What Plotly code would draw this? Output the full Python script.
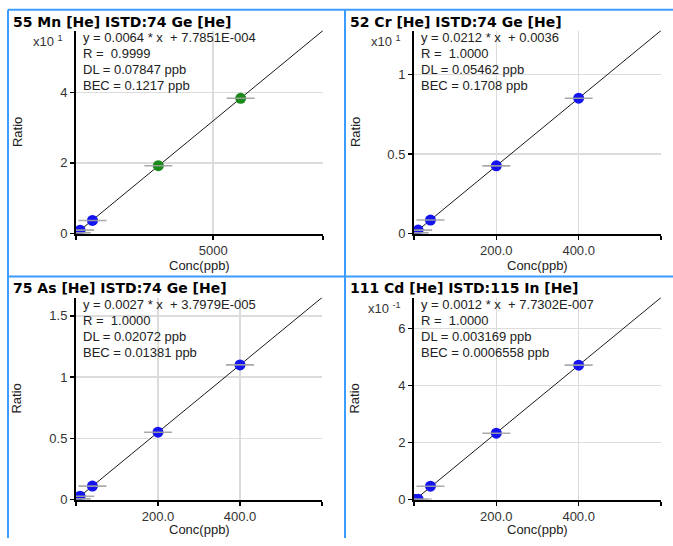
import numpy as np
import plotly.graph_objects as go

W, H = 673, 546

# ---------------- data ----------------
titles = ["55 Mn [He] ISTD:74 Ge [He]", "52 Cr [He] ISTD:74 Ge [He]",
          "75 As [He] ISTD:74 Ge [He]", "111 Cd [He] ISTD:115 In [He]"]
equations = ["y = 0.0064 * x \u00a0+ 7.7851E-004", "y = 0.0212 * x \u00a0+ 0.0036",
             "y = 0.0027 * x \u00a0+ 3.7979E-005", "y = 0.0012 * x \u00a0+ 7.7302E-007"]
r_values = ["0.9999", "1.0000", "1.0000", "1.0000"]
dl_values = ["0.07847", "0.05462", "0.02072", "0.003169"]
bec_values = ["0.1217", "0.1708", "0.01381", "0.0006558"]
scale_labels = ["x10 <sup>1</sup>", "x10 <sup>1</sup>", "", "x10 <sup>-1</sup>"]

mn_conc = [0, 30, 150, 600, 3000, 6000]
mn_ratio = [0.0008, 0.19, 0.96, 3.7, 19.2, 38.3]
mn_kind = ["blank", "std", "std", "std", "check", "check"]

cr_conc = [0, 2, 10, 40, 200, 400]
cr_ratio = [0.0036, 0.046, 0.216, 0.85, 4.26, 8.52]
cr_kind = ["blank", "std", "std", "std", "std", "std"]

as_conc = [0, 2, 10, 40, 200, 400]
as_ratio = [0.00004, 0.0055, 0.0275, 0.11, 0.55, 1.10]
as_kind = ["blank", "std", "std", "std", "std", "std"]

cd_conc = [0, 2, 10, 40, 200, 400]
cd_ratio = [0.0000008, 0.00024, 0.0012, 0.047, 0.233, 0.472]
cd_kind = ["blank", "std", "std", "std", "std", "std"]

x_max = [9000, 600, 600, 600]
x_tickvals = [[0, 5000, 9000], [0, 200, 400, 600], [0, 200, 400, 600], [0, 200, 400, 600]]
x_ticktext = [["", "5000", ""], ["", "200.0", "400.0", ""], ["", "200.0", "400.0", ""], ["", "200.0", "400.0", ""]]
y_tickvals = [[0, 20, 40], [0, 5, 10], [0, 0.5, 1, 1.5], [0, 0.2, 0.4, 0.6]]
y_ticktext = [["0", "2", "4"], ["0", "0.5", "1"], ["0", "0.5", "1", "1.5"], ["0", "2", "4", "6"]]

concs = [mn_conc, cr_conc, as_conc, cd_conc]
ratios = [mn_ratio, cr_ratio, as_ratio, cd_ratio]
kinds = [mn_kind, cr_kind, as_kind, cd_kind]

# ---------------- style / layout ----------------
kind_color = {"blank": "#10102a", "std": "#1414f0", "check": "#1a8a1a"}
BORDER = "#3c9cff"
FONT = "Liberation Sans, Arial, sans-serif"
TITLE_FONT = "DejaVu Sans, sans-serif"

# panel geometry in pixels: (border_x, border_y, plot_left, plot_right, plot_top, plot_bottom, xtitle_y)
panels = [
    (8, 10, 76, 323, 31, 237, 269),
    (345, 10, 414, 661, 31, 237, 269),
    (8, 280, 76, 322, 302, 507, 537),
    (345, 280, 414, 661, 302, 507, 537),
]


def px(x):
    return x / W


def py(y):
    return 1 - y / H


fig = go.Figure()
annotations = []
shapes = []

for i, (bx, by, L, R, T, B, XT) in enumerate(panels):
    n = i + 1
    xa = "x" if n == 1 else f"x{n}"
    ya = "y" if n == 1 else f"y{n}"
    conc = np.array(concs[i], dtype=float)
    ratio = np.array(ratios[i], dtype=float)
    slope, icpt = np.polyfit(conc, ratio, 1)
    y_top = slope * x_max[i] + icpt

    # fitted line
    fig.add_trace(go.Scatter(x=[0, x_max[i]], y=[icpt, y_top], mode="lines",
                             line=dict(color="#1a1a1a", width=1), xaxis=xa, yaxis=ya,
                             showlegend=False, hoverinfo="skip"))
    # points
    fig.add_trace(go.Scatter(x=conc, y=ratio, mode="markers",
                             marker=dict(size=11, color=[kind_color[k] for k in kinds[i]],
                                         line=dict(width=0)),
                             xaxis=xa, yaxis=ya, showlegend=False))
    # grey horizontal bars through points
    fig.add_trace(go.Scatter(x=conc, y=ratio, mode="markers",
                             marker=dict(symbol="line-ew", size=20,
                                         line=dict(width=1.6, color="rgba(160,160,160,0.9)")),
                             xaxis=xa, yaxis=ya, showlegend=False, hoverinfo="skip"))

    axis_common = dict(showline=True, linecolor="black", linewidth=2, ticks="outside",
                       ticklen=4, tickwidth=1.5, tickcolor="black", showgrid=True,
                       gridcolor="#dcdcdc", gridwidth=1.5, zeroline=False,
                       tickfont=dict(family=FONT, size=13, color="#333333"))
    fig.update_layout({
        ("xaxis" if n == 1 else f"xaxis{n}"): dict(
            domain=[px(L), px(R)], range=[0, x_max[i]], anchor=ya,
            tickmode="array", tickvals=x_tickvals[i], ticktext=x_ticktext[i], **axis_common),
        ("yaxis" if n == 1 else f"yaxis{n}"): dict(
            domain=[py(B), py(T)], range=[0, y_top], anchor=xa,
            tickmode="array", tickvals=y_tickvals[i], ticktext=y_ticktext[i], **axis_common),
    })

    # title
    annotations.append(dict(x=px(bx + 3), y=py(by + 12), xref="paper", yref="paper",
                            text=f"<b>{titles[i]}</b>", showarrow=False, xanchor="left",
                            yanchor="middle", font=dict(family=TITLE_FONT, size=14, color="black")))
    # equation text block
    lines = [equations[i], f"R = \u00a0{r_values[i]}", f"DL = {dl_values[i]} ppb",
             f"BEC = {bec_values[i]} ppb"]
    for j, t in enumerate(lines):
        annotations.append(dict(x=px(L + 5), y=py(T + 7.5 + j * 16), xref="paper", yref="paper",
                                text=t, showarrow=False, xanchor="left", yanchor="middle",
                                font=dict(family=FONT, size=13, color="#222222")))
    # scale multiplier
    if scale_labels[i]:
        annotations.append(dict(x=px(L - 11), y=py(T + 11), xref="paper", yref="paper",
                                text=scale_labels[i], showarrow=False, xanchor="right",
                                yanchor="middle", font=dict(family=FONT, size=13, color="#333333")))
    # axis titles
    annotations.append(dict(x=px((L + R) / 2), y=py(XT), xref="paper", yref="paper",
                            text="Conc(ppb)", showarrow=False, xanchor="center", yanchor="middle",
                            borderpad=0,
                            font=dict(family=FONT, size=13, color="#222222")))
    annotations.append(dict(x=px(L - 59), y=py((T + B) / 2), xref="paper", yref="paper",
                            text="Ratio", showarrow=False, xanchor="center", yanchor="middle",
                            textangle=-90, font=dict(family=FONT, size=13, color="#222222")))

# blue panel borders
border_lines = [
    (8, 10, W, 10),      # top
    (8, 10, 8, H),       # left
    (345, 10, 345, H),   # middle vertical
    (8, 280.5, W, 280.5),  # middle horizontal
]
for x0, y0, x1, y1 in border_lines:
    shapes.append(dict(type="line", xref="paper", yref="paper", x0=px(x0), y0=py(y0),
                       x1=px(x1), y1=py(y1), line=dict(color=BORDER, width=2)))

fig.update_layout(width=W, height=H, margin=dict(l=0, r=0, t=0, b=0),
                  paper_bgcolor="white", plot_bgcolor="white", dragmode=False,
                  annotations=annotations, shapes=shapes, showlegend=False)

post = (
    "var de=document.documentElement, b=document.body;"
    "de.style.margin='0';de.style.padding='0';de.style.overflow='hidden';"
    "b.style.margin='0';b.style.padding='0';b.style.overflow='hidden';"
    "var g=document.getElementById('{plot_id}');g.style.overflow='hidden';g.style.clipPath='inset(0)';"
    "var ss=g.querySelectorAll('svg.main-svg');for(var k=0;k<ss.length;k++){ss[k].style.overflow='hidden';}"
)

fig.write_html("out.html", config={"displayModeBar": False, "staticPlot": True},
               post_script=post)
